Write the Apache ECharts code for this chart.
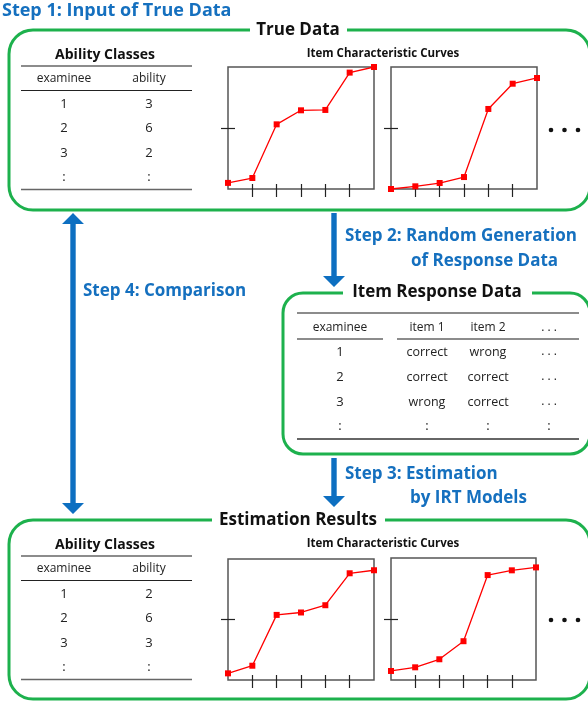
<!DOCTYPE html>
<html>
<head>
<meta charset="utf-8">
<script src="https://cdn.jsdelivr.net/npm/echarts@6/dist/echarts.min.js"></script>
<style>
  html, body { margin: 0; padding: 0; background: #fff; }
  #chart { width: 588px; height: 704px; }
</style>
</head>
<body>
<div id="chart"></div>
<script>
// ability levels on the x axis of every ICC panel
const abilityLevels = ['1', '2', '3', '4', '5', '6', '7']

// item characteristic curves (probability of correct answer)
const iccTrueItem1 = [0.05, 0.09, 0.53, 0.645, 0.648, 0.954, 1.0]
const iccTrueItem2 = [0.0, 0.022, 0.049, 0.098, 0.656, 0.863, 0.91]
const iccEstItem1 = [0.055, 0.118, 0.538, 0.558, 0.618, 0.882, 0.907]
const iccEstItem2 = [0.074, 0.104, 0.17, 0.318, 0.86, 0.899, 0.923]

// tables
const examinees = ['1', '2', '3']
const trueAbility = ['3', '6', '2']
const estAbility = ['2', '6', '3']
const responseItem1 = ['correct', 'correct', 'wrong']
const responseItem2 = ['wrong', 'correct', 'correct']

const FONT = '"Open Sans", Lato, sans-serif'
const GREEN = '#1db14d'
const BLUE = '#1570bf'
const ARROW = '#0d6fc1'

const chart = echarts.init(document.getElementById('chart'))

function txt(x, y, text, font, fill, align) {
  return {
    type: 'text', x: x, y: y, z: 10,
    style: {
      text: text, font: font, fill: fill || '#222',
      align: align || 'center', verticalAlign: 'middle',
      textAlign: align || 'center', textVerticalAlign: 'middle'
    }
  }
}

function hline(x1, x2, y, w, color) {
  return {
    type: 'line', z: 5,
    shape: { x1: x1, y1: y, x2: x2, y2: y },
    style: { stroke: color || '#555', lineWidth: w || 1 }
  }
}

function box(x, y, w, h, r) {
  return {
    type: 'rect', z: 1,
    shape: { x: x, y: y, width: w, height: h, r: r },
    style: { fill: 'none', stroke: GREEN, lineWidth: 3 }
  }
}

function gap(x1, x2, y) {
  return {
    type: 'rect', z: 2,
    shape: { x: x1, y: y - 6, width: x2 - x1, height: 12 },
    style: { fill: '#fff' }
  }
}

// vertical arrow, head at the y1 end (and at y0 too if double)
function arrow(x, y0, y1, double) {
  const sw = 2.7, hw = 11, hh = 11
  const dir = y1 > y0 ? 1 : -1
  let pts
  if (!double) {
    pts = [[x - sw, y0], [x + sw, y0], [x + sw, y1 - dir * hh], [x + hw, y1 - dir * hh],
      [x, y1], [x - hw, y1 - dir * hh], [x - sw, y1 - dir * hh]]
  } else {
    pts = [[x, y0], [x + hw, y0 + dir * hh], [x + sw, y0 + dir * hh], [x + sw, y1 - dir * hh],
      [x + hw, y1 - dir * hh], [x, y1], [x - hw, y1 - dir * hh], [x - sw, y1 - dir * hh],
      [x - sw, y0 + dir * hh], [x - hw, y0 + dir * hh]]
  }
  return { type: 'polygon', z: 3, shape: { points: pts }, style: { fill: ARROW } }
}

function dots(y) {
  return [551, 564.5, 578].map(x => ({
    type: 'circle', z: 5, shape: { cx: x, cy: y, r: 2.3 }, style: { fill: '#111' }
  }))
}

function abilityTable(dy, values) {
  const els = [
    txt(105, 55 + dy, 'Ability Classes', 'bold 14px ' + FONT, '#111'),
    hline(21, 192, 66 + dy, 1.6, '#666'),
    txt(64, 79 + dy, 'examinee', '12px ' + FONT, '#222'),
    txt(149, 79 + dy, 'ability', '12px ' + FONT, '#222'),
    hline(21, 192, 90.5 + dy, 1.2, '#222'),
    hline(21, 192, 189.5 + dy, 1.6, '#666')
  ]
  const rowY = [104, 128.5, 153]
  examinees.forEach((e, i) => {
    els.push(txt(64, rowY[i] + dy, e, '13px ' + FONT, '#222'))
    els.push(txt(149, rowY[i] + dy, values[i], '13px ' + FONT, '#222'))
  })
  els.push(txt(64, 177 + dy, ':', '13px ' + FONT, '#222'))
  els.push(txt(149, 177 + dy, ':', '13px ' + FONT, '#222'))
  els.push(txt(383, 54 + dy, 'Item Characteristic Curves', 'bold 11.5px ' + FONT, '#111'))
  return els
}

function responseTable() {
  const cols = [340, 427, 488, 549]
  const els = [
    hline(297, 579, 313, 1.6, '#666'),
    txt(cols[0], 328, 'examinee', '12px ' + FONT, '#222'),
    txt(cols[1], 328, 'item 1', '12px ' + FONT, '#222'),
    txt(cols[2], 328, 'item 2', '12px ' + FONT, '#222'),
    txt(cols[3], 328, '. . .', '12px ' + FONT, '#222'),
    hline(297, 383, 339, 1.6, '#666'),
    hline(397, 579, 339, 1.6, '#666'),
    hline(297, 579, 439, 1.6, '#333')
  ]
  const rowY = [352, 377, 402]
  examinees.forEach((e, i) => {
    els.push(txt(cols[0], rowY[i], e, '13px ' + FONT, '#222'))
    els.push(txt(cols[1], rowY[i], responseItem1[i], '12.5px ' + FONT, '#222'))
    els.push(txt(cols[2], rowY[i], responseItem2[i], '12.5px ' + FONT, '#222'))
    els.push(txt(cols[3], rowY[i], '. . .', '12px ' + FONT, '#222'))
  })
  cols.forEach(c => els.push(txt(c, 426, ':', '13px ' + FONT, '#222')))
  return els
}

const graphics = [].concat(
  [
    box(9, 30, 581, 180, 24),
    box(283, 293, 307, 161, 20),
    box(9, 520, 581, 179, 24),
    gap(250, 347, 30),
    gap(212, 385, 520),
    gap(343, 532, 293),
    txt(298, 30, 'True Data', 'bold 17px ' + FONT, '#111'),
    txt(437, 292, 'Item Response Data', 'bold 17px ' + FONT, '#111'),
    txt(298, 520, 'Estimation Results', 'bold 17px ' + FONT, '#111'),
    txt(2, 11, 'Step 1: Input of True Data', 'bold 18px ' + FONT, BLUE, 'left'),
    txt(345, 236, 'Step 2: Random Generation', 'bold 17px ' + FONT, BLUE, 'left'),
    txt(411, 261, 'of Response Data', 'bold 17px ' + FONT, BLUE, 'left'),
    txt(345, 474, 'Step 3: Estimation', 'bold 17px ' + FONT, BLUE, 'left'),
    txt(410, 498, 'by IRT Models', 'bold 17px ' + FONT, BLUE, 'left'),
    txt(83, 291, 'Step 4: Comparison', 'bold 17px ' + FONT, BLUE, 'left'),
    arrow(334, 213, 287, false),
    arrow(334, 458, 507, false),
    arrow(73, 213, 514, true)
  ],
  dots(130), dots(620),
  abilityTable(0, trueAbility),
  abilityTable(490, estAbility),
  responseTable()
)

const grids = [
  { left: 228, top: 67, width: 146, height: 122 },
  { left: 391, top: 67, width: 146, height: 122 },
  { left: 228, top: 559, width: 146, height: 121 },
  { left: 391, top: 558, width: 145, height: 122 }
].map(g => Object.assign(g, { show: true, borderColor: '#555', borderWidth: 1.5, backgroundColor: 'transparent' }))

const curves = [iccTrueItem1, iccTrueItem2, iccEstItem1, iccEstItem2]

const xAxes = []
const yAxes = []
const series = []
curves.forEach((vals, i) => {
  // outer ticks
  xAxes.push({
    type: 'category', gridIndex: i, data: abilityLevels, boundaryGap: false, position: 'bottom',
    axisLine: { show: false }, axisLabel: { show: false }, splitLine: { show: false },
    axisTick: { show: true, length: 8, interval: (idx) => idx > 0 && idx < 6, lineStyle: { color: '#222', width: 1.2 } }
  })
  // inner part of the crossing ticks
  xAxes.push({
    type: 'category', gridIndex: i, data: abilityLevels, boundaryGap: false, position: 'bottom',
    axisLine: { show: false }, axisLabel: { show: false }, splitLine: { show: false },
    axisTick: { show: true, inside: true, length: 5, interval: (idx) => idx > 0 && idx < 6, lineStyle: { color: '#222', width: 1.2 } }
  })
  yAxes.push({
    type: 'value', gridIndex: i, min: 0, max: 1, position: 'left',
    axisLine: { show: false }, axisLabel: { show: false }, splitLine: { show: false },
    axisTick: { show: true, length: 7, customValues: [0.5], lineStyle: { color: '#222', width: 1.2 } }
  })
  yAxes.push({
    type: 'value', gridIndex: i, min: 0, max: 1, position: 'left',
    axisLine: { show: false }, axisLabel: { show: false }, splitLine: { show: false },
    axisTick: { show: true, inside: true, length: 7, customValues: [0.5], lineStyle: { color: '#222', width: 1.2 } }
  })
  series.push({
    type: 'line', xAxisIndex: i * 2, yAxisIndex: i * 2, data: vals,
    symbol: 'rect', symbolSize: 6, showSymbol: true, animation: false,
    lineStyle: { color: '#ff0000', width: 1.3 },
    itemStyle: { color: '#ff0000' }
  })
})

chart.setOption({
  animation: false,
  grid: grids,
  xAxis: xAxes,
  yAxis: yAxes,
  series: series,
  graphic: { elements: graphics }
})
</script>
</body>
</html>
